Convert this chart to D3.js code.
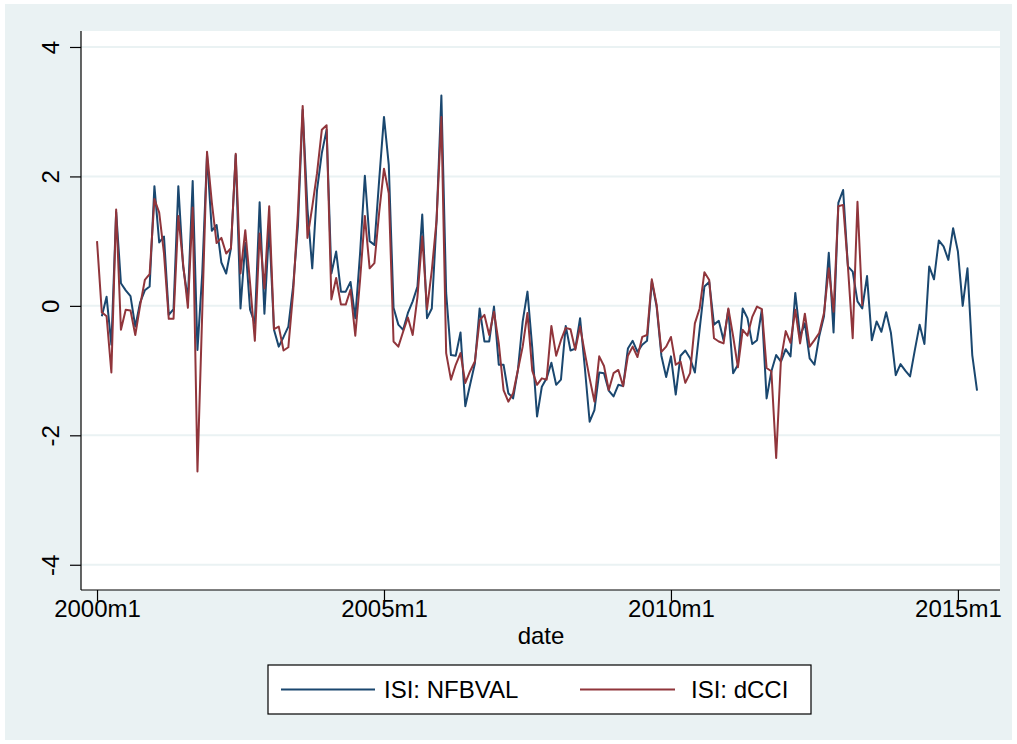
<!DOCTYPE html>
<html>
<head>
<meta charset="utf-8">
<script src="https://cdn.jsdelivr.net/npm/d3@7"></script>
<style>
  html, body { margin: 0; padding: 0; background: #ffffff; }
  svg { display: block; }
  text { font-family: "Liberation Sans", Arial, Helvetica, sans-serif; fill: #000; }
</style>
</head>
<body>
<div id="chart"></div>
<script>
// Month index 0 = 2000m1
const startYear = 2000;
const xTickValues = [0, 60, 120, 180];
const xTickLabels = ["2000m1", "2005m1", "2010m1", "2015m1"];
const yTickValues = [-4, -2, 0, 2, 4];
const yTickLabels = ["-4", "-2", "0", "2", "4"];
const seriesNames = ["ISI: NFBVAL", "ISI: dCCI"];

// ISI: NFBVAL, starts 2000m2 (index 1)
const nfbval = [null,
  -0.16, 0.14, -0.60, 1.45, 0.35, 0.24, 0.15, -0.32, 0.05, 0.24,
  0.30, 1.85, 0.98, 1.07, -0.14, -0.05, 1.85, 0.61, 0.10, 1.93,
  -0.68, 0.50, 2.33, 1.16, 1.25, 0.67, 0.50, 0.89, 2.33, -0.04,
  0.97, -0.06, -0.27, 1.60, -0.12, 1.23, -0.37, -0.63, -0.48, -0.32,
  0.30, 1.23, 3.03, 1.50, 0.58, 1.79, 2.36, 2.72, 0.50, 0.84,
  0.22, 0.22, 0.37, -0.19, 0.81, 2.01, 1.00, 0.94, 1.95, 2.92,
  2.18, -0.03, -0.29, -0.37, -0.11, 0.07, 0.30, 1.41, -0.19, -0.04,
  1.33, 3.25, 0.20, -0.76, -0.77, -0.41, -1.55, -1.22, -0.89, -0.04,
  -0.55, -0.55, -0.01, -0.91, -0.91, -1.35, -1.43, -0.99, -0.24, 0.22,
  -0.65, -1.71, -1.25, -1.12, -0.88, -1.22, -1.14, -0.31, -0.69, -0.66,
  -0.19, -0.96, -1.79, -1.61, -1.03, -1.04, -1.31, -1.40, -1.22, -1.24,
  -0.66, -0.54, -0.71, -0.60, -0.54, 0.38, -0.01, -0.77, -1.10, -0.78,
  -1.37, -0.77, -0.69, -0.81, -1.03, -0.36, 0.30, 0.37, -0.29, -0.23,
  -0.53, -0.06, -1.04, -0.91, -0.04, -0.19, -0.59, -0.53, -0.06, -1.43,
  -1.01, -0.76, -0.86, -0.67, -0.78, 0.20, -0.47, -0.27, -0.81, -0.91,
  -0.47, -0.16, 0.82, -0.41, 1.59, 1.79, 0.61, 0.53, 0.07, -0.04,
  0.46, -0.53, -0.24, -0.40, -0.10, -0.42, -1.07, -0.90, -1.00, -1.09,
  -0.68, -0.29, -0.59, 0.61, 0.41, 1.01, 0.92, 0.71, 1.20, 0.84,
  0.00, 0.58, -0.76, -1.31
];

// ISI: dCCI, 2000m1 .. 2013m5
const dcci = [
  1.00, -0.10, -0.16, -1.03, 1.49, -0.37, -0.06, -0.07, -0.45, 0.00,
  0.40, 0.49, 1.65, 1.44, 0.81, -0.20, -0.20, 1.39, 0.65, -0.03,
  1.52, -2.56, -0.10, 2.38, 1.60, 0.97, 1.05, 0.81, 0.89, 2.35,
  0.50, 1.17, 0.35, -0.54, 1.12, 0.27, 1.54, -0.36, -0.32, -0.69,
  -0.64, 0.20, 1.43, 3.09, 1.05, 1.53, 2.05, 2.72, 2.79, 0.10,
  0.43, 0.02, 0.02, 0.25, -0.46, 0.40, 1.39, 0.58, 0.66, 1.45,
  2.12, 1.74, -0.55, -0.63, -0.40, -0.18, -0.45, 0.14, 1.07, -0.05,
  0.55, 1.33, 2.92, -0.73, -1.14, -0.91, -0.73, -1.19, -1.01, -0.86,
  -0.22, -0.14, -0.45, -0.09, -0.58, -1.30, -1.48, -1.35, -0.99, -0.63,
  -0.11, -1.00, -1.22, -1.12, -1.14, -0.31, -0.77, -0.53, -0.34, -0.36,
  -0.68, -0.32, -0.73, -1.12, -1.48, -0.78, -0.93, -1.30, -1.04, -0.99,
  -1.24, -0.77, -0.63, -0.79, -0.48, -0.45, 0.41, 0.02, -0.71, -0.63,
  -0.48, -0.91, -0.86, -1.19, -1.04, -0.27, -0.04, 0.52, 0.40, -0.50,
  -0.55, -0.58, -0.04, -0.47, -0.95, -0.37, -0.46, -0.17, -0.01, -0.05,
  -0.96, -1.01, -2.35, -0.83, -0.39, -0.57, -0.06, -0.58, -0.12, -0.63,
  -0.53, -0.42, -0.11, 0.58, -0.09, 1.54, 1.56, 0.61, -0.50, 1.61,
  0.00
];

const W = 1017, H = 744;
const BG = "#eaf2f3";
const NAVY = "#1a476f";
const MAROON = "#90353b";

const svg = d3.select("#chart").append("svg")
  .attr("width", W).attr("height", H);

// page + outer graph region
svg.append("rect").attr("x", 0).attr("y", 0).attr("width", W).attr("height", H).attr("fill", "#fff");
svg.append("rect").attr("x", 5).attr("y", 4).attr("width", W - 10).attr("height", H - 8).attr("fill", BG);

const plot = { left: 81, right: 1000, top: 31, bottom: 590 };
svg.append("rect").attr("x", plot.left).attr("y", plot.top)
  .attr("width", plot.right - plot.left).attr("height", plot.bottom - plot.top).attr("fill", "#fff");

const x = d3.scaleLinear().domain([-3.35, 188.8]).range([plot.left, plot.right]);
const y = d3.scaleLinear().domain([-4.39, 4.247]).range([plot.bottom, plot.top]);

// gridlines
svg.append("g").selectAll("line").data(yTickValues).join("line")
  .attr("x1", plot.left).attr("x2", plot.right)
  .attr("y1", d => y(d)).attr("y2", d => y(d))
  .attr("stroke", BG).attr("stroke-width", 2);

// lines
const line = d3.line()
  .defined(d => d != null)
  .x((d, i) => x(i))
  .y(d => y(d));

svg.append("path").datum(nfbval).attr("d", line)
  .attr("fill", "none").attr("stroke", NAVY).attr("stroke-width", 2).attr("stroke-linejoin", "round");
svg.append("path").datum(dcci).attr("d", line)
  .attr("fill", "none").attr("stroke", MAROON).attr("stroke-width", 2).attr("stroke-linejoin", "round");

// y axis
const yAxis = d3.axisLeft(y).tickValues(yTickValues).tickSize(11).tickSizeOuter(0)
  .tickFormat((d, i) => yTickLabels[i]);
const gy = svg.append("g").attr("transform", `translate(${plot.left},0)`).call(yAxis);
gy.select(".domain").attr("stroke", "#000").attr("stroke-width", 1.2)
  .attr("d", `M0,${plot.top}V${plot.bottom}`);
gy.selectAll(".tick line").attr("stroke", "#000").attr("stroke-width", 1.2);
gy.selectAll(".tick text")
  .attr("x", null).attr("dy", null)
  .attr("text-anchor", "middle")
  .attr("transform", "translate(-22,0) rotate(-90)")
  .style("font-size", "24px")
  .style("font-family", "'Liberation Sans', Arial, Helvetica, sans-serif");

// x axis
const xAxis = d3.axisBottom(x).tickValues(xTickValues).tickSize(11).tickSizeOuter(0)
  .tickFormat((d, i) => xTickLabels[i]);
const gx = svg.append("g").attr("transform", `translate(0,${plot.bottom})`).call(xAxis);
gx.select(".domain").attr("stroke", "#000").attr("stroke-width", 1.2)
  .attr("d", `M${plot.left},0H${plot.right}`);
gx.selectAll(".tick line").attr("stroke", "#000").attr("stroke-width", 1.2);
gx.selectAll(".tick text")
  .attr("y", 27).attr("dy", null)
  .style("font-size", "24px")
  .style("font-family", "'Liberation Sans', Arial, Helvetica, sans-serif");

// x title
svg.append("text").attr("x", (plot.left + plot.right) / 2 + 0.5).attr("y", 644)
  .attr("text-anchor", "middle").style("font-size", "24px").text("date");

// legend
const lg = svg.append("g");
lg.append("rect").attr("x", 268).attr("y", 665).attr("width", 543).attr("height", 49)
  .attr("fill", "#fff").attr("stroke", "#000").attr("stroke-width", 1.2);
const legendItems = [
  { name: seriesNames[0], color: NAVY, x0: 281, x1: 375, tx: 384 },
  { name: seriesNames[1], color: MAROON, x0: 580, x1: 675, tx: 691 }
];
legendItems.forEach(it => {
  lg.append("line").attr("x1", it.x0).attr("x2", it.x1).attr("y1", 689.5).attr("y2", 689.5)
    .attr("stroke", it.color).attr("stroke-width", 2);
  lg.append("text").attr("x", it.tx).attr("y", 698).style("font-size", "24px").text(it.name);
});
</script>
</body>
</html>
